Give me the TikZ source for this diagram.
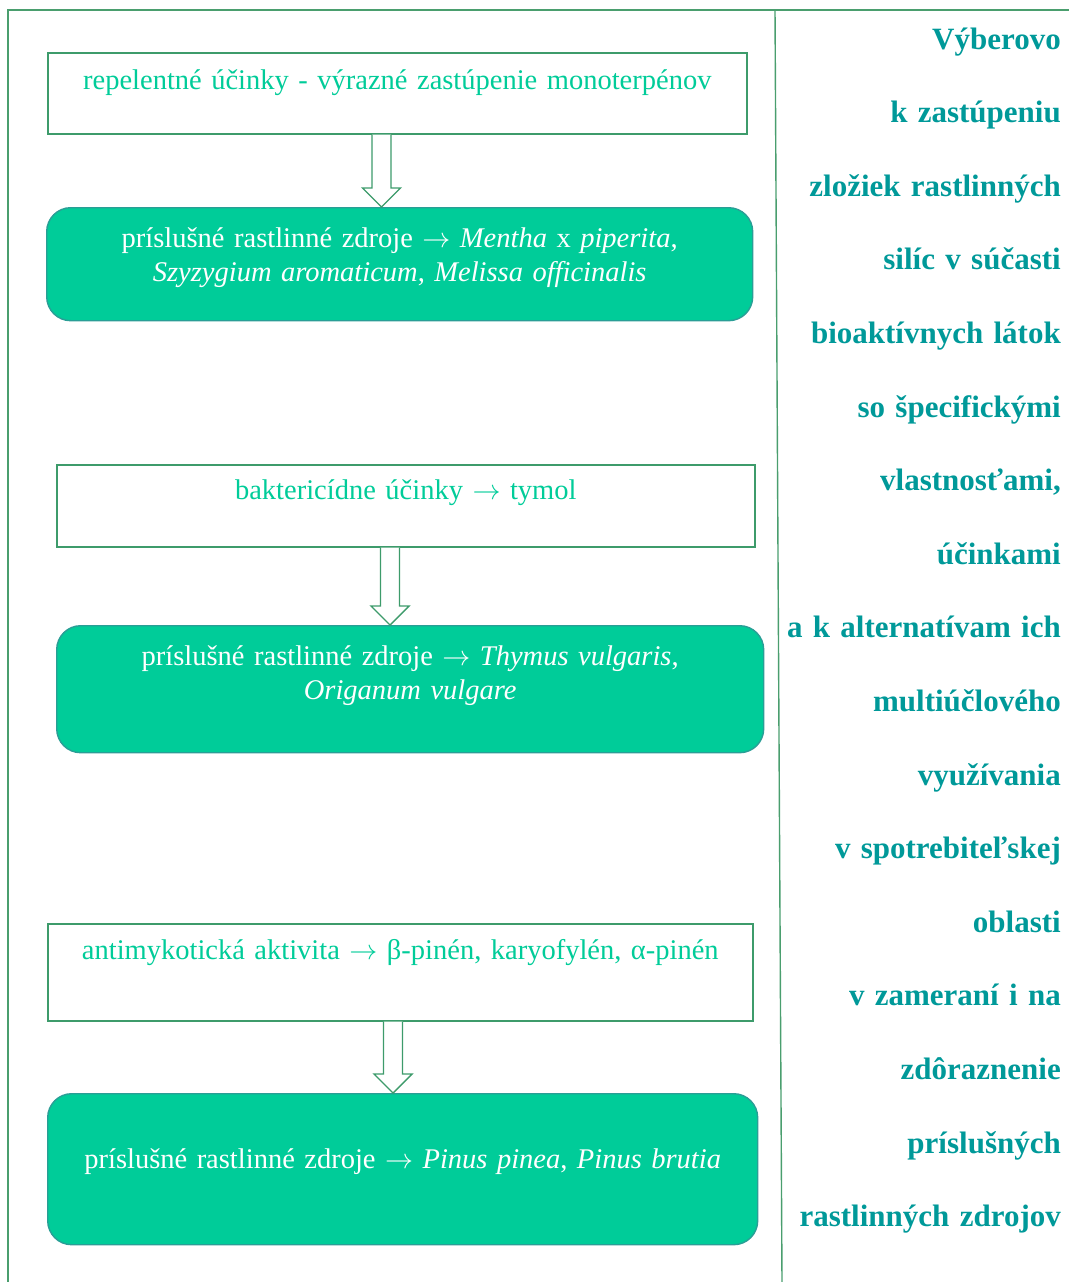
\documentclass[tikz,border=0pt]{standalone}
\usepackage{fontspec}
\usepackage{graphicx}
\setmainfont{Liberation Serif}
\usetikzlibrary{calc}
\definecolor{framegreen}{HTML}{4A9E6E}
\definecolor{boxborder}{HTML}{3D9B6B}
\definecolor{lightgreen}{HTML}{00CC99}
\definecolor{tealborder}{HTML}{2A9E96}
\definecolor{tealtext}{HTML}{009999}
\newcommand{\ra}{\resizebox{28pt}{!}{$\rightarrow$}}
\tikzset{
  whitebox/.style={draw=boxborder, line width=1.6pt, fill=white, text=lightgreen,
    align=center, inner xsep=2pt, inner ysep=0pt, anchor=north west,
    font=\fontsize{28.5}{34}\selectfont},
  greenbox/.style={draw=tealborder, line width=1.4pt, fill=lightgreen, text=white,
    rounded corners=24pt, align=center, inner xsep=2pt, inner ysep=0pt, anchor=north west,
    font=\fontsize{28.5}{34}\selectfont},
  blockarr/.style={draw=boxborder, line width=1.4pt, fill=white, line join=miter},
  framelin/.style={draw=framegreen, line width=1.4pt}
}
\newcommand{\blockarrow}[2]{%
  \filldraw[blockarr] ($(#1)+(-9.5,0)$) -- ($(#2)+(-9.5,-19)$) -- ($(#2)+(-19,-19)$) -- (#2)
    -- ($(#2)+(19,-19)$) -- ($(#2)+(9.5,-19)$) -- ($(#1)+(9.5,0)$);}
\begin{document}
\begin{tikzpicture}[x=1pt,y=-1pt]
\useasboundingbox (0,0) rectangle (1069,1282);
% frame
\coordinate (ftl) at (8,10);
\coordinate (ftr) at (1069,10);
\coordinate (fbl) at (8,1282);
\coordinate (dt) at (775,10);
\coordinate (db) at (782,1282);
\draw[framelin] (fbl) -- (ftl) -- (ftr);
\draw[framelin] (dt) -- (db);

% boxes
\node[whitebox, minimum width=699, text width=695, text height=37, text depth=44] (b1) at (47,52)
  {repelentné účinky - výrazné zastúpenie monoterpénov};
\node[greenbox, minimum width=706, text width=702, text height=40, text depth=73] (b2) at (46,207)
  {príslušné rastlinné zdroje \ra{} \textit{Mentha} x \textit{piperita}, \\ \textit{Szyzygium aromaticum}, \textit{Melissa officinalis}};
\node[whitebox, minimum width=698, text width=694, text height=35, text depth=47] (b3) at (56,464)
  {baktericídne účinky \ra{} tymol};
\node[greenbox, minimum width=707, text width=703, text height=40, text depth=87] (b4) at (56,625)
  {príslušné rastlinné zdroje \ra{} \textit{Thymus vulgaris}, \\ \textit{Origanum vulgare}};
\node[whitebox, minimum width=705, text width=701, text height=36, text depth=61] (b5) at (47,923)
  {antimykotická aktivita \ra{} β-pinén, karyofylén, α-pinén};
\node[greenbox, minimum width=710, text width=706, text height=75, text depth=76] (b6) at (47,1093)
  {príslušné rastlinné zdroje \ra{} \textit{Pinus pinea}, \textit{Pinus brutia}};

% arrows
\coordinate (x1) at (381.5,0);
\coordinate (x2) at (390,0);
\coordinate (x3) at (393,0);
\coordinate (a1s) at (b1.south -| x1);
\coordinate (a1t) at (b2.north -| x1);
\coordinate (a2s) at (b3.south -| x2);
\coordinate (a2t) at (b4.north -| x2);
\coordinate (a3s) at (b5.south -| x3);
\coordinate (a3t) at (b6.north -| x3);
\blockarrow{a1s}{a1t}
\blockarrow{a2s}{a2t}
\blockarrow{a3s}{a3t}

% right text
\node[anchor=base east, text width=300, align=right, inner sep=0pt, text=tealtext,
  font=\bfseries\fontsize{31}{73.6}\selectfont] (rt) at (1061,49)
  {Výberovo\\ k zastúpeniu\\ zložiek rastlinných\\ silíc v súčasti\\ bioaktívnych látok\\
   so špecifickými\\ vlastnosťami,\\ účinkami\\ a k alternatívam ich\\ multiúčlového\\
   využívania\\ v spotrebiteľskej\\ oblasti\\ v zameraní i na\\ zdôraznenie\\ príslušných\\
   rastlinných zdrojov};
\end{tikzpicture}
\end{document}
